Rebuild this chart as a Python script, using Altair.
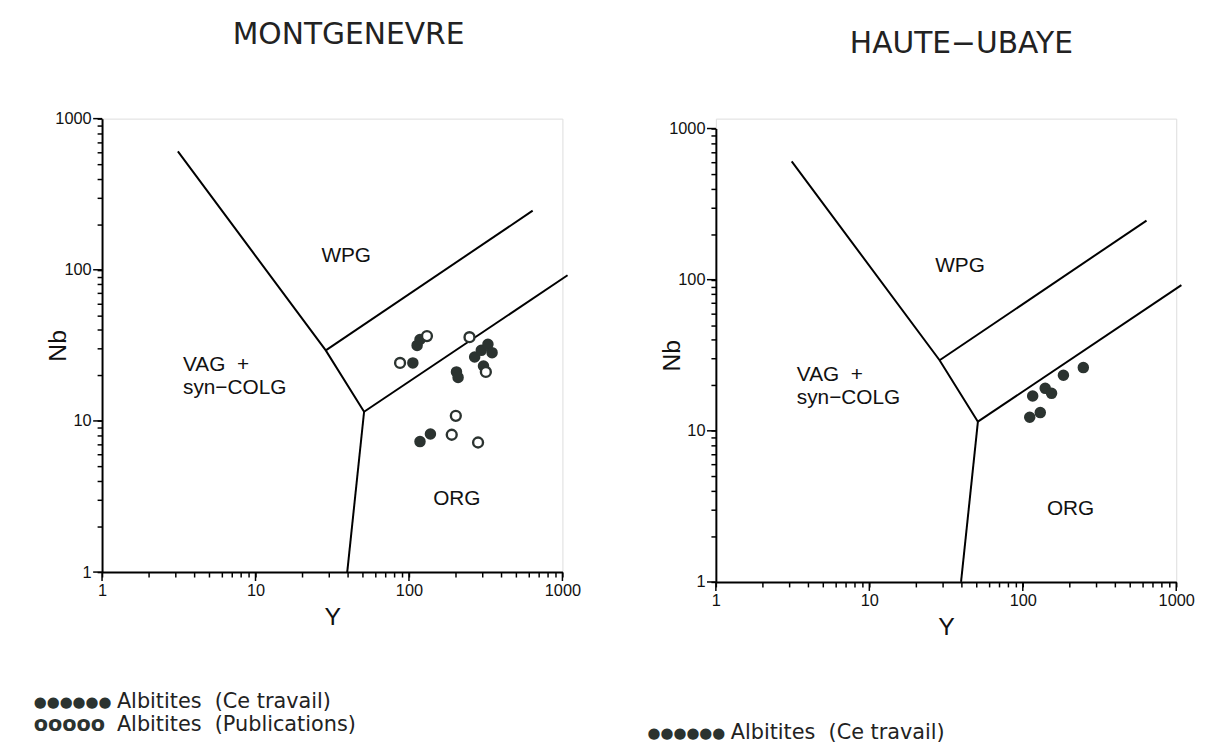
import altair as alt
import pandas as pd

# ---------------- data ----------------
# Montgenevre, filled circles (Ce travail)
mg_filled_Y = [113, 118, 106, 268, 296, 327, 348, 306, 204, 209, 138, 118]
mg_filled_Nb = [31.6, 34.6, 24.2, 26.5, 29.3, 32.1, 28.3, 23.1, 21.1, 19.4, 8.2, 7.3]
# Montgenevre, open circles (Publications)
mg_open_Y = [131, 87.5, 248, 317, 202, 190, 282]
mg_open_Nb = [36.4, 24.2, 35.8, 21.1, 10.8, 8.1, 7.2]
# Haute-Ubaye, filled circles (Ce travail)
hu_filled_Y = [248, 184, 140, 154, 116, 130, 111]
hu_filled_Nb = [26.2, 23.3, 19.1, 17.7, 17.0, 13.2, 12.3]

# discrimination boundaries (Y, Nb)
boundary_seg = ["a", "a", "a", "b", "b", "c", "c", "d", "d"]
boundary_Y = [3.12, 28.7, 51, 28.7, 640, 51, 1080, 51, 39.6]
boundary_Nb = [607, 29.3, 11.5, 29.3, 246, 11.5, 92, 11.5, 1]

# field labels
field_text = ["WPG", "ORG"]
field_Y = [39, 205]
field_Nb = [123, 3.03]
vag_text = ["VAG\u00a0\u00a0+", "syn\u2212COLG"]
vag_Y = [3.37, 3.37]
vag_Nb = [23.3, 16.4]

titles = ["MONTGENEVRE", "HAUTE\u2212UBAYE"]
legend_symbols = ["\u25cf\u25cf\u25cf\u25cf\u25cf\u25cf", "ooooo"]
legend_labels = ["Albitites\u00a0\u00a0(Ce travail)", "Albitites\u00a0\u00a0(Publications)"]

tick_values = [m * 10 ** e for e in range(3) for m in range(1, 10)] + [1000]
major_ticks = [1, 10, 100, 1000]

FONT = "Liberation Sans"
DARK = "#2b3330"
W = 465


def panel(fY, fNb, oY, oNb, H, top, title, title_x, title_y, legend_rows):
    xs = alt.Scale(type="log", domain=[1, 1000], nice=False)
    ys = alt.Scale(type="log", domain=[1, 1000], nice=False, range=[H, top])
    label_expr = ("datum.value == 1 || datum.value == 10 || datum.value == 100 || "
                  "datum.value == 1000 ? format(datum.value, 'd') : ''")
    common = dict(values=tick_values, labelExpr=label_expr, grid=False,
                  tickSize=5, tickWidth=1.5, tickColor="black",
                  domainColor="black", domainWidth=2, labelOverlap=False,
                  labelFlush=False, labelFont=FONT, labelFontSize=16.5,
                  labelFontWeight=500, labelColor="#111", labelPadding=6,
                  titleFont=FONT, titleFontSize=25, titleFontWeight="normal",
                  titleColor="#111", titleBaseline="middle", titleAlign="center")
    xax = alt.Axis(title="Y", titleX=W / 2, titleY=45, **common)
    yax = alt.Axis(title="Nb", titleX=-45, titleY=(H + top) / 2, titleAngle=270,
                   **common)

    bnd = pd.DataFrame({"seg": boundary_seg, "Y": boundary_Y, "Nb": boundary_Nb})
    lines = alt.Chart(bnd).mark_line(color="black", strokeWidth=2).encode(
        x=alt.X("Y:Q", scale=xs, axis=xax),
        y=alt.Y("Nb:Q", scale=ys, axis=yax),
        detail="seg:N",
    )
    layers = [lines]

    maj = pd.DataFrame({"v": major_ticks})
    layers.append(alt.Chart(maj).mark_rule(color="black", strokeWidth=1.5).encode(
        x=alt.X("v:Q", scale=xs), y=alt.value(H), y2=alt.value(H + 9)))
    layers.append(alt.Chart(maj).mark_rule(color="black", strokeWidth=1.5).encode(
        y=alt.Y("v:Q", scale=ys), x=alt.value(-9), x2=alt.value(0)))

    fdf = pd.DataFrame({"Y": fY, "Nb": fNb})
    layers.append(alt.Chart(fdf).mark_point(filled=True, size=135, opacity=1,
                                            color=DARK, shape="circle").encode(
        x=alt.X("Y:Q", scale=xs), y=alt.Y("Nb:Q", scale=ys)))
    if oY:
        odf = pd.DataFrame({"Y": oY, "Nb": oNb})
        layers.append(alt.Chart(odf).mark_point(filled=False, size=100, opacity=1,
                                                strokeWidth=2.4, color=DARK,
                                                fill="white", fillOpacity=1,
                                                shape="circle").encode(
            x=alt.X("Y:Q", scale=xs), y=alt.Y("Nb:Q", scale=ys)))

    fl = pd.DataFrame({"t": field_text, "Y": field_Y, "Nb": field_Nb})
    layers.append(alt.Chart(fl).mark_text(font=FONT, fontSize=21, color="#111",
                                          align="center", baseline="middle").encode(
        x=alt.X("Y:Q", scale=xs), y=alt.Y("Nb:Q", scale=ys), text="t:N"))
    vg = pd.DataFrame({"t": vag_text, "Y": vag_Y, "Nb": vag_Nb})
    layers.append(alt.Chart(vg).mark_text(font=FONT, fontSize=21, color="#111",
                                          align="left", baseline="middle").encode(
        x=alt.X("Y:Q", scale=xs), y=alt.Y("Nb:Q", scale=ys), text="t:N"))

    tdf = pd.DataFrame({"t": [title]})
    layers.append(alt.Chart(tdf).mark_text(font="DejaVu Sans", fontSize=30,
                                           color="#222", align="center",
                                           baseline="middle").encode(
        x=alt.value(title_x), y=alt.value(title_y), text="t:N"))

    for sym, lab, yy in legend_rows:
        filled_sym = sym.startswith("\u25cf")
        sdf = pd.DataFrame({"t": [sym]})
        layers.append(alt.Chart(sdf).mark_text(font="DejaVu Sans",
                                               fontSize=15 if filled_sym else 21,
                                               fontWeight="bold", color=DARK,
                                               align="left", baseline="middle").encode(
            x=alt.value(-69), y=alt.value(yy), text="t:N"))
        ldf = pd.DataFrame({"t": [lab]})
        layers.append(alt.Chart(ldf).mark_text(font="DejaVu Sans", fontSize=21,
                                               color="#222", align="left",
                                               baseline="middle").encode(
            x=alt.value(15), y=alt.value(yy), text="t:N"))

    return alt.layer(*layers).properties(width=W, height=H)


left = panel(mg_filled_Y, mg_filled_Nb, mg_open_Y, mg_open_Nb, 458, 0,
             titles[0], 249, -84,
             [(legend_symbols[0], legend_labels[0], 589),
              (legend_symbols[1], legend_labels[1], 613)])
right = panel(hu_filled_Y, hu_filled_Nb, [], [], 468, 10,
              titles[1], 248, -75,
              [(legend_symbols[0], legend_labels[0], 621)])

chart = alt.hconcat(left, right, spacing=155, bounds="flush").properties(
    padding={"left": 25, "top": 8, "right": 5, "bottom": 5}
).configure_view(stroke=None).configure(background="white")

chart.save("out.html", embed_options={"renderer": "svg", "actions": False})
